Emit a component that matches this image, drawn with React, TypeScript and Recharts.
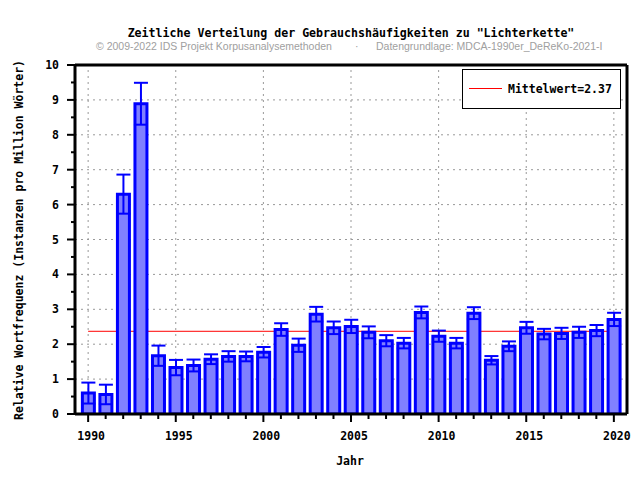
import React from 'react'
import {
  ComposedChart,
  Bar,
  ErrorBar,
  XAxis,
  YAxis,
  ReferenceLine,
  Legend
} from 'recharts'

// relative frequency per year with its error margin
const years = [
  1990, 1991, 1992, 1993, 1994, 1995, 1996, 1997, 1998, 1999,
  2000, 2001, 2002, 2003, 2004, 2005, 2006, 2007, 2008, 2009,
  2010, 2011, 2012, 2013, 2014, 2015, 2016, 2017, 2018, 2019, 2020
]
const freq = [
  0.60, 0.56, 6.30, 8.89, 1.67, 1.33, 1.39, 1.57, 1.65, 1.65,
  1.77, 2.42, 1.97, 2.86, 2.47, 2.51, 2.34, 2.10, 2.03, 2.91,
  2.23, 2.03, 2.89, 1.54, 1.94, 2.47, 2.29, 2.31, 2.34, 2.39, 2.71
]
const freqErr = [
  0.30, 0.28, 0.56, 0.60, 0.29, 0.22, 0.17, 0.14, 0.15, 0.14,
  0.15, 0.18, 0.19, 0.21, 0.18, 0.19, 0.17, 0.16, 0.15, 0.17,
  0.16, 0.15, 0.17, 0.12, 0.14, 0.17, 0.15, 0.16, 0.16, 0.16, 0.19
]
const mean = 2.37

const xMajorTicks = [1990, 1995, 2000, 2005, 2010, 2015, 2020]
const yMajorTicks = [0, 1, 2, 3, 4, 5, 6, 7, 8, 9, 10]
const yAllTicks = [
  0, 0.5, 1, 1.5, 2, 2.5, 3, 3.5, 4, 4.5, 5,
  5.5, 6, 6.5, 7, 7.5, 8, 8.5, 9, 9.5, 10
]
const yGrid = [1, 2, 3, 4, 5, 6, 7, 8, 9]

const data = years.map((year, i) => ({ year, freq: freq[i], err: freqErr[i] }))

const MONO = '"DejaVu Sans Mono", monospace'
const X_DOMAIN = [1989.25, 2020.75]
const GRID = { stroke: '#999', strokeDasharray: '2 4', strokeWidth: 1 }

const YTick = ({ x, y, payload }: any) => {
  const major = yMajorTicks.includes(payload.value)
  return (
    <g>
      <line x1={x - (major ? 8 : 4)} y1={y} x2={x} y2={y} stroke="#000" strokeWidth={2} />
      {major && (
        <text
          x={x - 16}
          y={y}
          textAnchor="end"
          dominantBaseline="central"
          fontFamily={MONO}
          fontWeight="bold"
          fontSize={11.5}
          fill="#000"
        >
          {payload.value}
        </text>
      )}
    </g>
  )
}

const XTick = ({ x, y, payload }: any) => {
  const major = xMajorTicks.includes(payload.value)
  return (
    <g>
      <line x1={x} y1={y} x2={x} y2={y + (major ? 8 : 5)} stroke="#000" strokeWidth={2} />
      {major && (
        <text
          x={x + 3}
          y={y + 22}
          textAnchor="middle"
          dominantBaseline="central"
          fontFamily={MONO}
          fontWeight="bold"
          fontSize={11.5}
          fill="#000"
        >
          {payload.value}
        </text>
      )}
    </g>
  )
}

const MeanLegend = () => (
  <svg width={159} height={40}>
    <rect x={0.5} y={0.5} width={158} height={39} fill="#fff" stroke="#000" />
    <line x1={7} y1={19.5} x2={40} y2={19.5} stroke="#ff0000" />
    <text
      x={46}
      y={20}
      dominantBaseline="central"
      fontFamily={MONO}
      fontWeight="bold"
      fontSize={11.5}
      fill="#000"
    >
      {`Mittelwert=${mean}`}
    </text>
  </svg>
)

export default function App() {
  return (
    <div style={{ position: 'absolute', left: 0, top: 0, width: 640, height: 480, background: '#fff' }}>
      <ComposedChart
        width={640}
        height={480}
        data={data}
        margin={{ top: 64, right: 12, bottom: 0, left: 0 }}
      >
        <text
          x={351}
          y={33}
          textAnchor="middle"
          dominantBaseline="central"
          fontFamily={MONO}
          fontWeight="bold"
          fontSize={11.6}
          fill="#000"
        >
          Zeitliche Verteilung der Gebrauchshäufigkeiten zu "Lichterkette"
        </text>
        <text x={96} y={46} dominantBaseline="central" fontFamily="Liberation Sans, Arial" fontSize={10.5} fill="#a0a0a0">
          © 2009-2022 IDS Projekt Korpusanalysemethoden
        </text>
        <text x={355} y={46} dominantBaseline="central" fontFamily="Liberation Sans, Arial" fontSize={10.5} fill="#a0a0a0">
          ·
        </text>
        <text x={376} y={46} dominantBaseline="central" fontFamily="Liberation Sans, Arial" fontSize={10.5} fill="#a0a0a0">
          Datengrundlage: MDCA-1990er_DeReKo-2021-I
        </text>
        <text
          x={19}
          y={240}
          transform="rotate(-90, 19, 240)"
          textAnchor="middle"
          dominantBaseline="central"
          fontFamily={MONO}
          fontWeight="bold"
          fontSize={11.5}
          fill="#000"
        >
          Relative Wortfrequenz (Instanzen pro Million Wörter)
        </text>
        <text
          x={350}
          y={461}
          textAnchor="middle"
          dominantBaseline="central"
          fontFamily={MONO}
          fontWeight="bold"
          fontSize={11.5}
          fill="#000"
        >
          Jahr
        </text>

        <XAxis
          dataKey="year"
          type="number"
          domain={X_DOMAIN}
          allowDataOverflow
          ticks={years}
          interval={0}
          tick={<XTick />}
          tickLine={false}
          tickSize={0}
          tickMargin={0}
          axisLine={{ stroke: '#000', strokeWidth: 3 }}
          height={66}
        />
        <XAxis
          xAxisId="top"
          orientation="top"
          type="number"
          domain={X_DOMAIN}
          allowDataOverflow
          tick={false}
          tickLine={false}
          axisLine={{ stroke: '#000', strokeWidth: 3 }}
          height={1}
        />
        <YAxis
          type="number"
          domain={[0, 10]}
          allowDataOverflow
          ticks={yAllTicks}
          interval={0}
          tick={<YTick />}
          tickLine={false}
          tickSize={0}
          tickMargin={0}
          axisLine={{ stroke: '#000', strokeWidth: 3 }}
          width={75}
        />
        <YAxis
          yAxisId="right"
          orientation="right"
          type="number"
          domain={[0, 10]}
          tick={false}
          tickLine={false}
          axisLine={{ stroke: '#000', strokeWidth: 3 }}
          width={1}
        />

        {yGrid.map((v) => (
          <ReferenceLine key={`gy-${v}`} y={v} {...GRID} zIndex={-100} />
        ))}
        {xMajorTicks.map((v) => (
          <ReferenceLine key={`gx-${v}`} x={v} {...GRID} zIndex={-100} />
        ))}

        <ReferenceLine
          segment={[{ x: 1990, y: mean }, { x: 2020, y: mean }]}
          stroke="#ff0000"
          strokeWidth={1}
          zIndex={-50}
        />

        <Bar
          dataKey="freq"
          fill="#8080ff"
          stroke="#0000ff"
          strokeWidth={3}
          barSize={12}
          isAnimationActive={false}
        >
          <ErrorBar dataKey="err" width={7} strokeWidth={2} stroke="#0000ff" />
        </Bar>

        <Legend
          layout="vertical"
          align="center"
          verticalAlign="middle"
          content={() => <MeanLegend />}
          wrapperStyle={{ position: 'absolute', left: 462, top: 69, width: 159, height: 40 }}
        />
      </ComposedChart>
    </div>
  )
}
